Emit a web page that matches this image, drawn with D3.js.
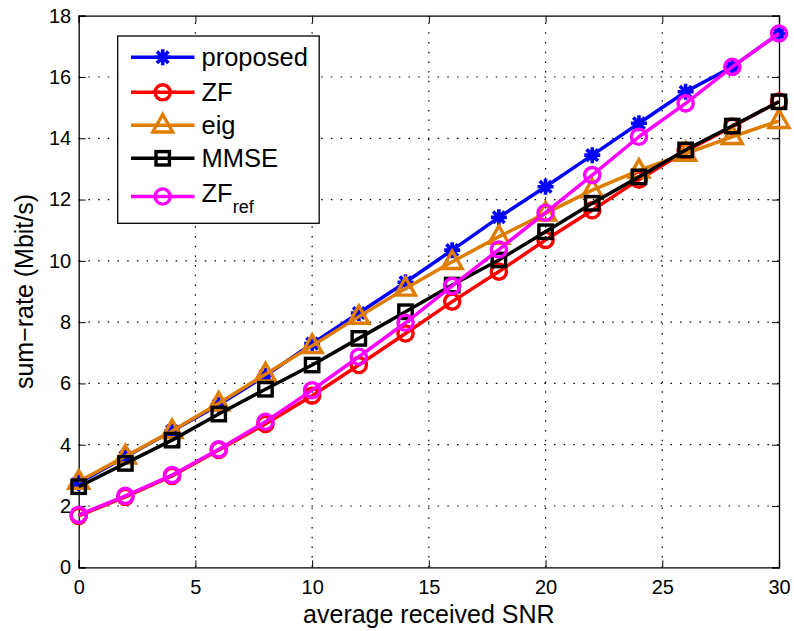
<!DOCTYPE html>
<html>
<head>
<meta charset="utf-8">
<title>sum-rate vs SNR</title>
<script src="https://d3js.org/d3.v7.min.js"></script>
<style>
  body { margin: 0; background: #fff; }
  text { font-family: "Liberation Sans", Arial, Helvetica, sans-serif; fill: #000; }
  .grid line { stroke: #000; stroke-width: 1.2; stroke-dasharray: 1.5,8.2; }
</style>
</head>
<body>
<script>
// x values (average received SNR)
var snr = [0, 2, 4, 6, 8, 10, 12, 14, 16, 18, 20, 22, 24, 26, 28, 30];

// series values (sum-rate, Mbit/s)
var proposed = [2.75, 3.6, 4.45, 5.3, 6.25, 7.3, 8.3, 9.3, 10.35, 11.42, 12.42, 13.45, 14.49, 15.52, 16.33, 17.42];
var zf       = [1.68, 2.3, 2.98, 3.83, 4.68, 5.6, 6.6, 7.63, 8.67, 9.65, 10.68, 11.65, 12.65, 13.58, 14.38, 15.2];
var eig      = [2.8, 3.62, 4.45, 5.35, 6.3, 7.23, 8.18, 9.1, 9.97, 10.79, 11.55, 12.31, 12.95, 13.5, 14.05, 14.57];
var mmse     = [2.63, 3.39, 4.15, 5.0, 5.81, 6.6, 7.47, 8.34, 9.21, 10.03, 10.95, 11.88, 12.74, 13.62, 14.4, 15.19];
var zfRef    = [1.71, 2.33, 3.01, 3.85, 4.75, 5.78, 6.87, 7.98, 9.18, 10.37, 11.57, 12.8, 14.05, 15.14, 16.33, 17.42];

// tick labels
var xTicks = [0, 5, 10, 15, 20, 25, 30];
var yTicks = [0, 2, 4, 6, 8, 10, 12, 14, 16, 18];

var series = [
  {name: "proposed", values: proposed, color: "#0000ff", marker: "star"},
  {name: "ZF",       values: zf,       color: "#ff0000", marker: "circle"},
  {name: "eig",      values: eig,      color: "#de7d00", marker: "triangle"},
  {name: "MMSE",     values: mmse,     color: "#000000", marker: "square"},
  {name: "ZF",       sub: "ref", values: zfRef, color: "#ff00ff", marker: "circle"}
];

var margin = {top: 15.7, right: 15, bottom: 63.7, left: 78.7},
    width = 794 - margin.left - margin.right,
    height = 631 - margin.top - margin.bottom;

var svg = d3.select("body").append("svg")
    .attr("width", 794)
    .attr("height", 631);

var g = svg.append("g")
    .attr("transform", "translate(" + margin.left + "," + margin.top + ")");

var x = d3.scaleLinear().domain([0, 30]).range([0, width]);
var y = d3.scaleLinear().domain([0, 18]).range([height, 0]);

// grid
var grid = g.append("g").attr("class", "grid");
grid.selectAll(".vx").data(xTicks.slice(1, -1)).enter().append("line")
    .attr("x1", function(d) { return x(d); }).attr("x2", function(d) { return x(d); })
    .attr("y1", height).attr("y2", 0);
grid.selectAll(".hy").data(yTicks.slice(1, -1)).enter().append("line")
    .attr("y1", function(d) { return y(d); }).attr("y2", function(d) { return y(d); })
    .attr("x1", 0).attr("x2", width);

// axes, ticks pointing inward on all four sides
var tl = 7;
var xAxis = g.append("g")
    .attr("transform", "translate(0," + height + ")")
    .call(d3.axisBottom(x).tickValues(xTicks).tickSize(-tl));
var xTop = g.append("g")
    .call(d3.axisTop(x).tickValues(xTicks).tickSize(-tl).tickFormat(""));
var yAxis = g.append("g")
    .call(d3.axisLeft(y).tickValues(yTicks).tickSize(-tl));
var yRight = g.append("g")
    .attr("transform", "translate(" + width + ",0)")
    .call(d3.axisRight(y).tickValues(yTicks).tickSize(-tl).tickFormat(""));

[xAxis, xTop, yAxis, yRight].forEach(function(a) {
  a.select(".domain").attr("stroke", "#000").attr("stroke-width", 1.3);
  a.selectAll(".tick line").attr("stroke", "#000").attr("stroke-width", 1);
  a.selectAll("text").style("font-size", "20px").attr("fill", "#000");
});
xAxis.selectAll("text").attr("dy", "0.71em").attr("y", 13);
yAxis.selectAll("text").attr("x", -7.5);

// axis labels
svg.append("text")
    .attr("x", margin.left + width / 2)
    .attr("y", 623)
    .attr("text-anchor", "middle")
    .style("font-size", "25px")
    .text("average received SNR");

svg.append("text")
    .attr("transform", "translate(33," + (margin.top + height / 2) + ") rotate(-90)")
    .attr("text-anchor", "middle")
    .style("font-size", "25px")
    .text("sum\u2212rate (Mbit/s)");

// markers
function drawMarker(sel, type, color) {
  if (type === "circle") {
    sel.append("circle").attr("r", 7.6)
      .attr("fill", "none").attr("stroke", color).attr("stroke-width", 3.4);
  } else if (type === "square") {
    sel.append("rect").attr("x", -6.7).attr("y", -6.7).attr("width", 13.4).attr("height", 13.4)
      .attr("fill", "none").attr("stroke", color).attr("stroke-width", 3.4);
  } else if (type === "triangle") {
    var r = 10.8;
    sel.append("path")
      .attr("d", "M0," + (-r) + "L" + (r * 0.92) + "," + (r * 0.62) + "L" + (-r * 0.92) + "," + (r * 0.62) + "Z")
      .attr("fill", "none").attr("stroke", color).attr("stroke-width", 3.4)
      .attr("stroke-linejoin", "miter");
  } else if (type === "star") {
    var s = 8, d = s * 0.72;
    sel.append("path")
      .attr("d", "M" + (-s) + ",0L" + s + ",0M0," + (-s) + "L0," + s +
                 "M" + (-d) + "," + (-d) + "L" + d + "," + d +
                 "M" + (-d) + "," + d + "L" + d + "," + (-d))
      .attr("stroke", color).attr("stroke-width", 3.6).attr("fill", "none");
  }
}

var line = d3.line()
    .x(function(d, i) { return x(snr[i]); })
    .y(function(d) { return y(d); });

series.forEach(function(s) {
  g.append("path")
    .datum(s.values)
    .attr("fill", "none")
    .attr("stroke", s.color)
    .attr("stroke-width", 3.5)
    .attr("stroke-linejoin", "round")
    .attr("d", line);
  g.append("g").selectAll("g").data(s.values).enter().append("g")
    .attr("transform", function(d, i) { return "translate(" + x(snr[i]) + "," + y(d) + ")"; })
    .each(function() { drawMarker(d3.select(this), s.marker, s.color); });
});

// legend
var lg = svg.append("g");
lg.append("rect")
    .attr("x", 117.7).attr("y", 36)
    .attr("width", 201.5).attr("height", 187.3)
    .attr("fill", "#fff").attr("stroke", "#000").attr("stroke-width", 1.3);

var rowY = [57.3, 92.3, 125.3, 158.3, 196.5];
series.forEach(function(s, i) {
  var row = lg.append("g").attr("transform", "translate(0," + rowY[i] + ")");
  row.append("line").attr("x1", 131).attr("x2", 194.5).attr("y1", 0).attr("y2", 0)
    .attr("stroke", s.color).attr("stroke-width", 3.5);
  var m = row.append("g").attr("transform", "translate(162.7,0)");
  drawMarker(m, s.marker, s.color);
  var t = row.append("text")
    .attr("x", 201.5)
    .attr("y", s.sub ? 5.2 : 8.6)
    .style("font-size", "25.5px")
    .text(s.name);
  if (s.sub) {
    t.append("tspan").attr("dy", 11.6).style("font-size", "18px").text(s.sub);
  }
});
</script>
</body>
</html>
